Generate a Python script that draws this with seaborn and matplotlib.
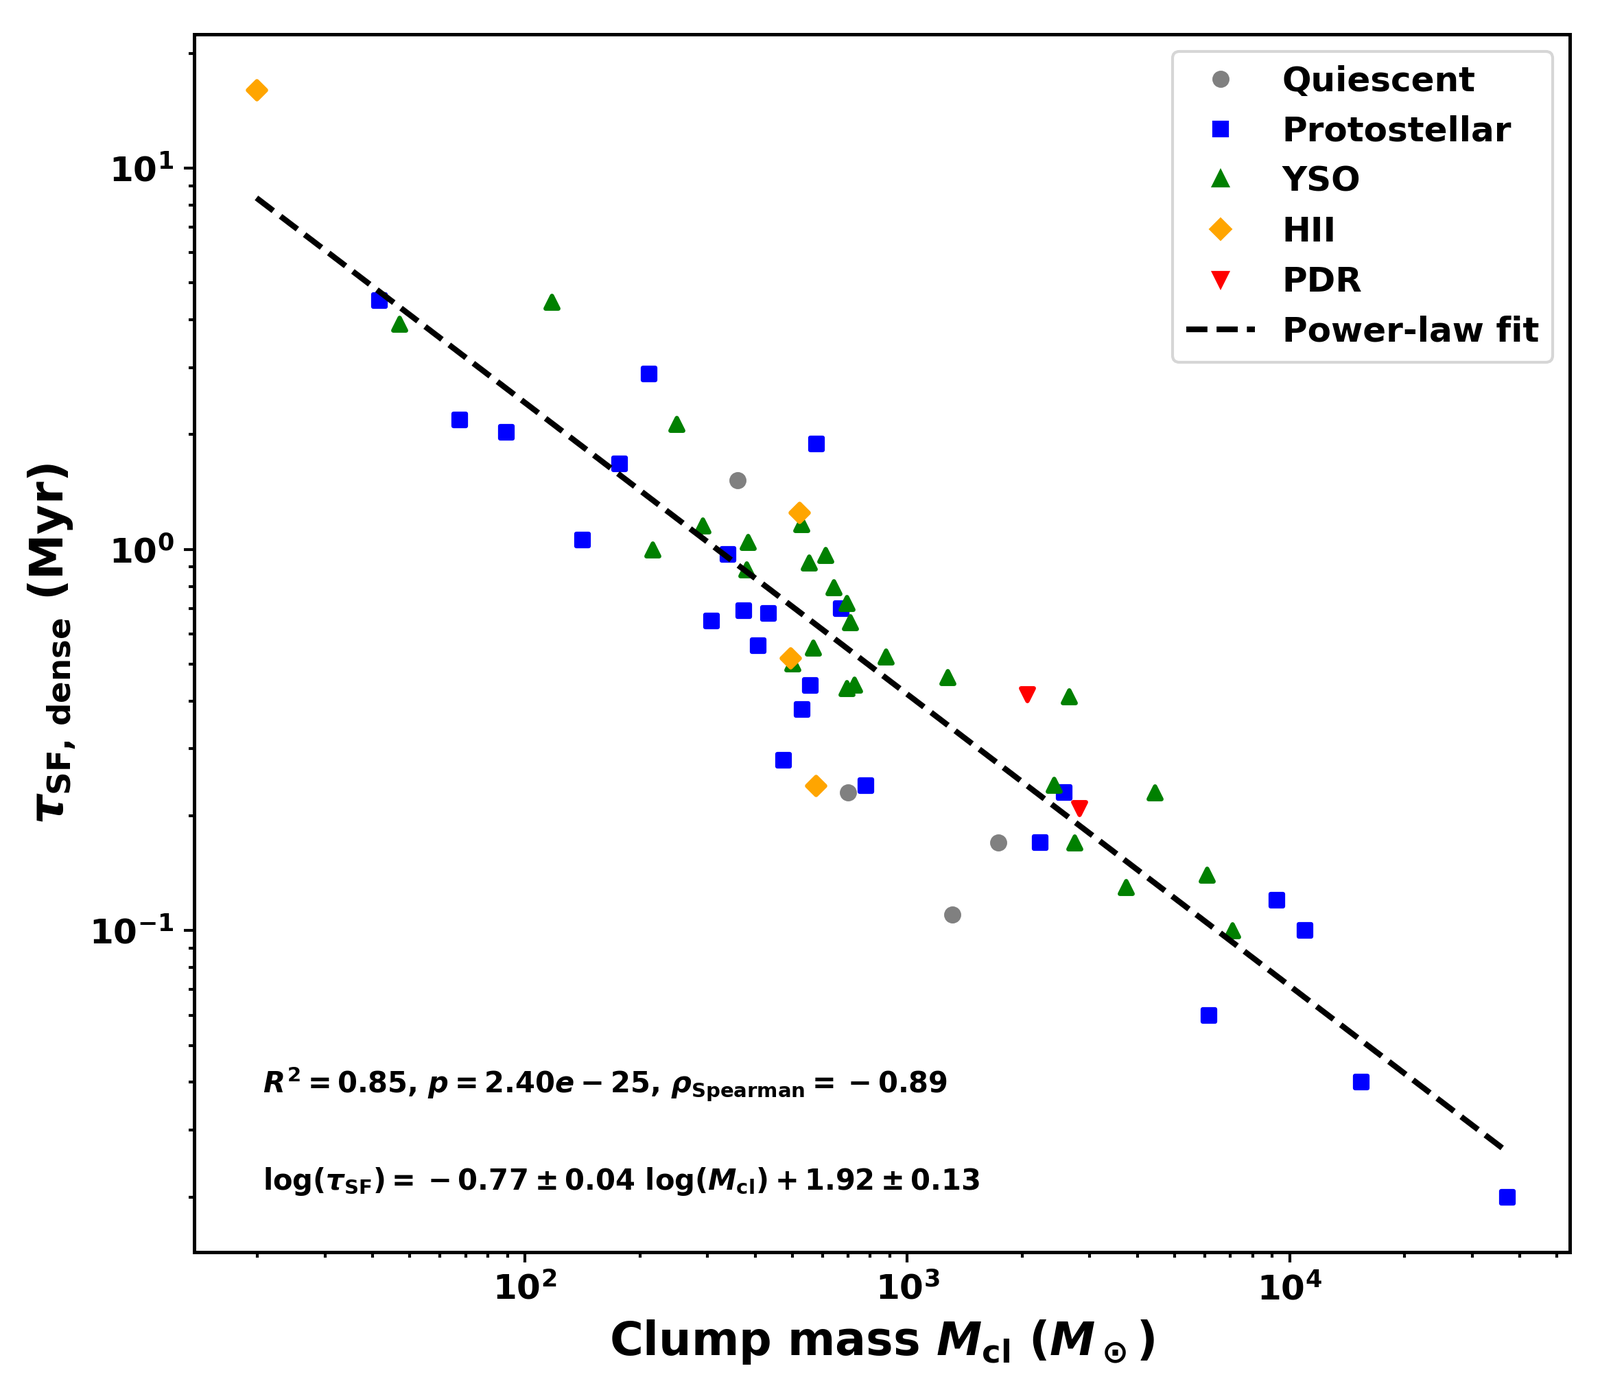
import numpy as np
import pandas as pd
import matplotlib
matplotlib.use('Agg')
import matplotlib.pyplot as plt
from matplotlib.lines import Line2D
import seaborn as sns

# clump mass (Msun) and dense-gas star formation timescale (Myr) per class
quiescent_mass = [360, 700, 1731, 1309]
quiescent_tau = [1.52, 0.230, 0.170, 0.110]

protostellar_mass = [41.7, 67.6, 89.5, 141.6, 177, 211, 308, 339, 373, 408, 434, 475,
                     531, 557, 579, 672, 780, 2223, 2570, 6150, 9265, 10965, 15370, 37070]
protostellar_tau = [4.50, 2.19, 2.03, 1.06, 1.68, 2.88, 0.650, 0.971, 0.690, 0.560, 0.679, 0.280,
                    0.380, 0.440, 1.89, 0.700, 0.240, 0.170, 0.230, 0.060, 0.120, 0.100, 0.040, 0.020]

yso_mass = [46.9, 117.5, 215.6, 249, 291, 379, 383, 500, 528, 552, 566, 611, 643,
            693, 693, 710, 726, 878, 1272, 2413, 2648, 2738, 3730, 4436, 6073, 7080]
yso_tau = [3.91, 4.45, 1.00, 2.13, 1.154, 0.885, 1.045, 0.503, 1.164, 0.923, 0.552, 0.965, 0.794,
           0.724, 0.432, 0.644, 0.442, 0.523, 0.462, 0.241, 0.412, 0.170, 0.130, 0.230, 0.140, 0.100]

hii_mass = [19.86, 523, 494, 577]
hii_tau = [16.07, 1.25, 0.519, 0.240]

pdr_mass = [2061, 2820]
pdr_tau = [0.417, 0.209]

classes = ['Quiescent', 'Protostellar', 'YSO', 'HII', 'PDR']
colors = ['gray', 'blue', 'green', 'orange', 'red']
markers = ['o', 's', '^', 'D', 'v']

# power-law fit: log(tau) = slope*log(M) + intercept
fit_slope = -0.765
fit_intercept = 1.915

plt.rcParams['font.family'] = ['DejaVu Sans']
plt.rcParams['font.weight'] = 'bold'
plt.rcParams['axes.labelweight'] = 'bold'
plt.rcParams['mathtext.fontset'] = 'custom'
plt.rcParams['mathtext.rm'] = 'DejaVu Sans:bold'
plt.rcParams['mathtext.bf'] = 'DejaVu Sans:bold'
plt.rcParams['mathtext.it'] = 'DejaVu Sans:italic:bold'
plt.rcParams['mathtext.sf'] = 'DejaVu Sans:bold'
plt.rcParams['axes.linewidth'] = 1.2

df = pd.concat([
    pd.DataFrame({'mass': m, 'tau': t, 'cls': c})
    for m, t, c in [(quiescent_mass, quiescent_tau, 'Quiescent'),
                    (protostellar_mass, protostellar_tau, 'Protostellar'),
                    (yso_mass, yso_tau, 'YSO'),
                    (hii_mass, hii_tau, 'HII'),
                    (pdr_mass, pdr_tau, 'PDR')]
], ignore_index=True)

fig = plt.figure(figsize=(2332 / 300, 2023 / 300), dpi=300)
ax = fig.add_axes([0.1212, 0.0977, 0.8599, 0.8776])
ax.set_xscale('log')
ax.set_yscale('log')

msize = 20
edge_w = 1.5
handles = []
for c, col, mk in zip(classes, colors, markers):
    sub = df[df['cls'] == c]
    sns.scatterplot(data=sub, x='mass', y='tau', color=col, marker=mk, s=msize,
                    edgecolor=col, linewidth=edge_w, legend=False, ax=ax)
    handles.append(Line2D([], [], color=col, marker=mk, linestyle='none',
                          markersize=np.sqrt(msize), markeredgewidth=edge_w,
                          markeredgecolor=col, label=c))

m_fit = np.logspace(np.log10(df['mass'].min()), np.log10(df['mass'].max()), 100)
tau_fit = 10 ** (fit_slope * np.log10(m_fit) + fit_intercept)
line, = ax.plot(m_fit, tau_fit, 'k--', lw=2, label='Power-law fit')
handles.append(line)

ax.set_xlabel(r'Clump mass $M_{\rm cl}$ ($M_\odot$)', fontsize=16)
ax.set_ylabel(r'$\tau_{\rm SF,\,dense}$ (Myr)', fontsize=16)
ax.tick_params(axis='both', which='major', labelsize=12, width=1.0)
ax.tick_params(axis='both', which='minor', width=1.0)

ax.text(0.05, 0.131, r'$R^2 = 0.85$, $p = 2.40e-25$, $\rho_{\rm Spearman} = {}-0.89$',
        transform=ax.transAxes, fontsize=10)
ax.text(0.05, 0.0514, r'$\log(\tau_{\rm SF}) = {}-0.77 \pm 0.04\ \log(M_{\rm cl}) + 1.92 \pm 0.13$',
        transform=ax.transAxes, fontsize=10)

ax.legend(handles=handles, loc='upper right', fontsize=12)

fig.savefig('out.png', dpi=300)
